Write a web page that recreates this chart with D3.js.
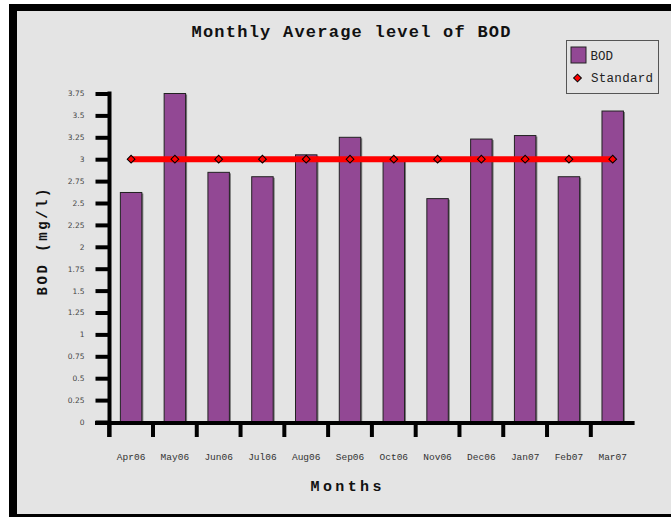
<!DOCTYPE html>
<html>
<head>
<meta charset="utf-8">
<script src="https://cdn.jsdelivr.net/npm/d3@7/dist/d3.min.js"></script>
<style>
html,body{margin:0;padding:0;background:#fff;}
svg{display:block;}
</style>
</head>
<body>
<svg id="chart" width="671" height="517"></svg>
<script>
const months = ["Apr06","May06","Jun06","Jul06","Aug06","Sep06","Oct06","Nov06","Dec06","Jan07","Feb07","Mar07"];
const bodValues = [2.62, 3.75, 2.85, 2.80, 3.05, 3.25, 3.01, 2.55, 3.23, 3.27, 2.80, 3.55];
const standardValues = [3, 3, 3, 3, 3, 3, 3, 3, 3, 3, 3, 3];
const yTicks = [0,0.25,0.5,0.75,1,1.25,1.5,1.75,2,2.25,2.5,2.75,3,3.25,3.5,3.75];
const yTickLabels = ["0","0.25","0.5","0.75","1","1.25","1.5","1.75","2","2.25","2.5","2.75","3","3.25","3.5","3.75"];
const titleText = "Monthly Average level of BOD";
const xTitle = "Months";
const yTitle = "BOD (mg/l)";
const legendLabels = ["BOD", "Standard"];

const svg = d3.select("#chart");
const mono = "'Liberation Mono','Courier New',monospace";

// frame
svg.append("rect").attr("x",9).attr("y",4).attr("width",700).attr("height",600).attr("fill","#000");
svg.append("rect").attr("x",17).attr("y",11).attr("width",700).attr("height",503).attr("fill","#e4e4e4");

const x = d3.scaleBand().domain(months).range([109.2, 634.6]).paddingInner(0.51).paddingOuter(0.255);
const y = d3.scaleLinear().domain([0, 3.75]).range([422, 93.5]);
const step = x.step(), bw = x.bandwidth();

// bars (shadow + bar)
const g = svg.append("g");
g.selectAll("rect.shadow").data(bodValues).join("rect")
  .attr("x",(d,i)=>x(months[i])+1.5).attr("y",d=>y(d)+1)
  .attr("width",bw).attr("height",d=>y(0)-y(d))
  .attr("fill","#7a7a7a");
g.selectAll("rect.bar").data(bodValues).join("rect")
  .attr("x",(d,i)=>x(months[i])).attr("y",d=>y(d))
  .attr("width",bw).attr("height",d=>y(0)-y(d))
  .attr("fill","#924894").attr("stroke","#222").attr("stroke-width",1);

// y axis
const yAxis = d3.axisLeft(y).tickValues(yTicks).tickSize(14).tickSizeOuter(0)
  .tickFormat((d,i)=>yTickLabels[i]).tickPadding(11);
const ya = svg.append("g").attr("transform","translate(109.5,0)").call(yAxis);
ya.select(".domain").remove();
ya.selectAll(".tick line").attr("stroke","#000").attr("stroke-width",4);
ya.selectAll(".tick text").attr("font-family","'DejaVu Sans',Verdana,sans-serif").attr("font-size",7.5).attr("fill","#444");
svg.append("line").attr("x1",109.5).attr("x2",109.5).attr("y1",y(3.75)-2).attr("y2",437)
  .attr("stroke","#000").attr("stroke-width",4);

// x axis
svg.append("line").attr("x1",95).attr("x2",x.range()[1]).attr("y1",423).attr("y2",423)
  .attr("stroke","#000").attr("stroke-width",4);
svg.selectAll("line.xt").data(months).join("line")
  .attr("x1",d=>x(d)+bw/2-step/2).attr("x2",d=>x(d)+bw/2-step/2)
  .attr("y1",423).attr("y2",437).attr("stroke","#000").attr("stroke-width",4);
svg.selectAll("text.xl").data(months).join("text")
  .attr("x",d=>x(d)+bw/2).attr("y",460).attr("text-anchor","middle")
  .attr("font-family",mono).attr("font-size",9.5).attr("fill","#333").text(d=>d);

// standard line
const line = d3.line().x((d,i)=>x(months[i])+bw/2).y(d=>y(d));
svg.append("path").datum(standardValues).attr("d",line).attr("fill","none")
  .attr("stroke","#ff0000").attr("stroke-width",6);
const diamond = d3.symbol().type(d3.symbolSquare).size(30);
svg.selectAll("path.mk").data(standardValues).join("path")
  .attr("transform",(d,i)=>`translate(${x(months[i])+bw/2},${y(d)}) rotate(45)`)
  .attr("d",diamond).attr("fill","#ff0000").attr("stroke","#000").attr("stroke-width",1);

// titles
svg.append("text").attr("x",351).attr("y",37).attr("text-anchor","middle")
  .attr("font-family",mono).attr("font-weight","bold").attr("font-size",17)
  .attr("textLength",319).attr("lengthAdjust","spacing").attr("fill","#111").text(titleText);
svg.append("text").attr("x",346).attr("y",491).attr("text-anchor","middle")
  .attr("font-family",mono).attr("font-weight","bold").attr("font-size",15)
  .attr("textLength",71).attr("lengthAdjust","spacing").attr("fill","#111").text(xTitle);
svg.append("text").attr("transform","translate(47,242) rotate(-90)").attr("text-anchor","middle")
  .attr("font-family",mono).attr("font-weight","bold").attr("font-size",14)
  .attr("textLength",107).attr("lengthAdjust","spacing").attr("fill","#111").text(yTitle);

// legend
svg.append("rect").attr("x",566.5).attr("y",40.5).attr("width",92).attr("height",53)
  .attr("fill","#e4e4e4").attr("stroke","#555").attr("stroke-width",1);
svg.append("rect").attr("x",571).attr("y",47).attr("width",15).attr("height",16)
  .attr("fill","#924894").attr("stroke","#222").attr("stroke-width",1);
svg.append("path").attr("transform","translate(577.5,78) rotate(45)").attr("d",diamond)
  .attr("fill","#ff0000").attr("stroke","#000").attr("stroke-width",1);
svg.append("text").attr("x",590.5).attr("y",60).attr("font-family",mono).attr("font-size",12.5)
  .attr("fill","#222").text(legendLabels[0]);
svg.append("text").attr("x",591).attr("y",82).attr("font-family",mono).attr("font-size",12.5)
  .attr("textLength",62).attr("lengthAdjust","spacing").attr("fill","#222").text(legendLabels[1]);
</script>
</body>
</html>
